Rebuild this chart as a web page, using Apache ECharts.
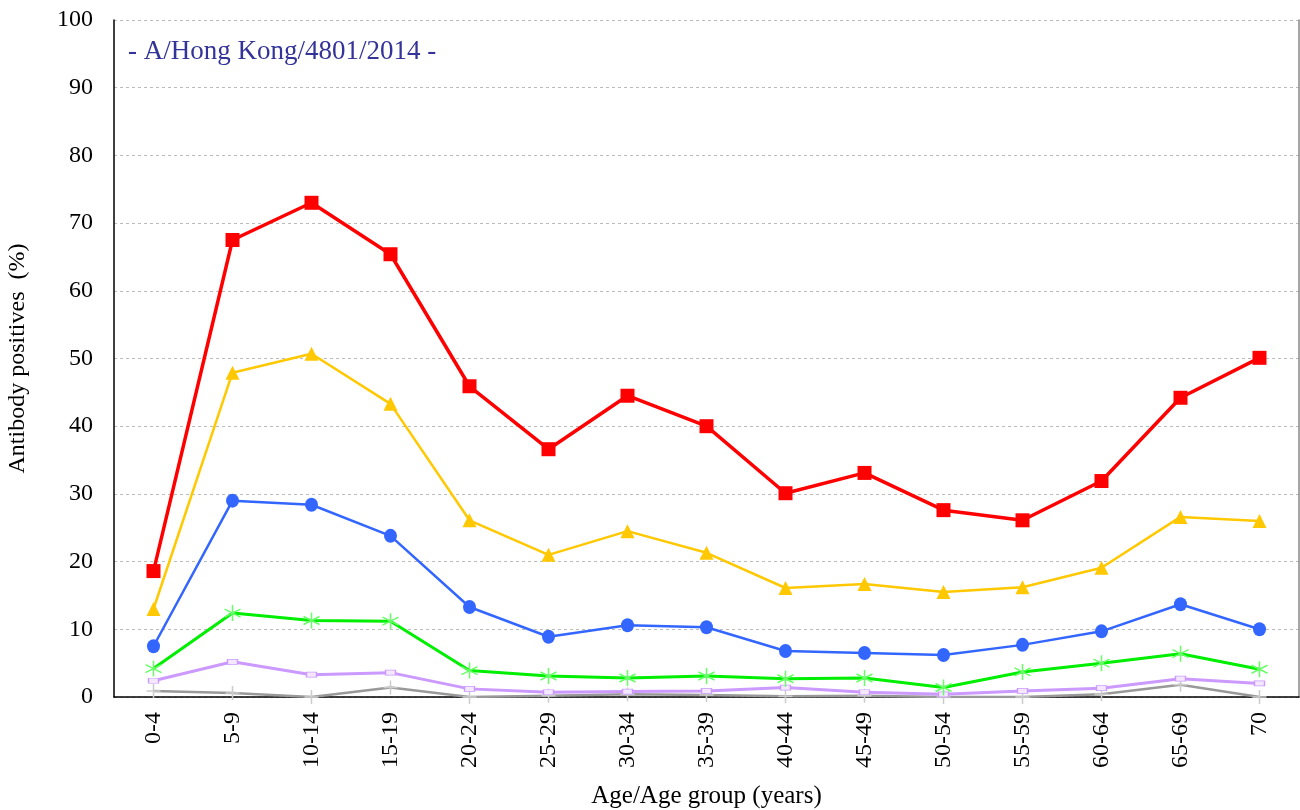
<!DOCTYPE html>
<html>
<head>
<meta charset="utf-8">
<script src="https://cdn.jsdelivr.net/npm/echarts@6/dist/echarts.min.js"></script>
<style>
  html, body { margin: 0; padding: 0; background: #fff; }
  #chart { width: 1300px; height: 810px; }
</style>
</head>
<body>
<div id="chart"></div>
<script>
var ageGroups = ["0-4", "5-9", "10-14", "15-19", "20-24", "25-29", "30-34", "35-39",
  "40-44", "45-49", "50-54", "55-59", "60-64", "65-69", "70"];

var redValues = [18.6, 67.5, 73.0, 65.4, 45.9, 36.6, 44.5, 40.0, 30.1, 33.1, 27.6, 26.1, 31.9, 44.2, 50.1];
var yellowValues = [13.0, 47.9, 50.7, 43.3, 26.1, 21.0, 24.5, 21.3, 16.1, 16.7, 15.5, 16.2, 19.1, 26.6, 26.0];
var blueValues = [7.5, 29.0, 28.4, 23.8, 13.3, 8.9, 10.6, 10.3, 6.8, 6.5, 6.2, 7.7, 9.7, 13.7, 10.0];
var greenValues = [4.2, 12.4, 11.3, 11.2, 3.9, 3.1, 2.8, 3.1, 2.7, 2.8, 1.4, 3.7, 5.0, 6.4, 4.1];
var purpleValues = [2.4, 5.2, 3.3, 3.6, 1.2, 0.7, 0.8, 0.9, 1.4, 0.7, 0.4, 0.9, 1.3, 2.7, 2.0];
var grayValues = [0.9, 0.6, 0, 1.4, 0, 0.2, 0.4, 0.3, 0.1, 0.2, 0, 0, 0.4, 1.8, 0];

var yTicks = { min: 0, max: 100, interval: 10 };

var font = "'Liberation Serif', 'DejaVu Serif', serif";

// asterisk and plus markers are drawn as stroked paths
var asterisk = "path://M10,0 L10,20 M1.3,5 L18.7,15 M1.3,15 L18.7,5";
var plus = "path://M10,0 L10,20 M4,10 L16,10";

function lineSeries(name, data, color, width, opts) {
  return Object.assign({
    name: name,
    type: "line",
    data: data,
    lineStyle: { color: color, width: width },
    emphasis: { disabled: true },
    animation: false
  }, opts);
}

var chart = echarts.init(document.getElementById("chart"));
chart.setOption({
  animation: false,
  grid: { left: 114, right: 1, top: 20, bottom: 113, outerBoundsMode: "none" },
  graphic: [{
    type: "text",
    left: 128,
    top: 38,
    style: {
      text: "- A/Hong Kong/4801/2014 -",
      fill: "#333399",
      font: "27px " + font
    }
  }],
  xAxis: {
    type: "category",
    data: ageGroups,
    boundaryGap: true,
    name: "Age/Age group (years)",
    nameLocation: "middle",
    nameGap: 87,
    nameTextStyle: { color: "#000", fontSize: 25, fontFamily: font },
    axisLine: { lineStyle: { color: "#000", width: 1.5 } },
    axisTick: { show: false },
    axisLabel: { rotate: 90, margin: 15, color: "#000", fontSize: 24, fontFamily: font },
    splitLine: { show: false }
  },
  yAxis: [{
    type: "value",
    min: yTicks.min,
    max: yTicks.max,
    interval: yTicks.interval,
    name: "Antibody positives  (%)",
    nameLocation: "middle",
    nameGap: 84,
    nameTextStyle: { color: "#000", fontSize: 24, fontFamily: font },
    axisLine: { show: true, lineStyle: { color: "#000", width: 1.5 } },
    axisTick: { show: false },
    axisLabel: { margin: 21, color: "#000", fontSize: 24, fontFamily: font },
    splitLine: { show: true, lineStyle: { color: "#bbbbbb", width: 1, type: [3, 3] } }
  }, {
    // plain frame line on the right edge
    type: "value",
    position: "right",
    min: yTicks.min,
    max: yTicks.max,
    interval: yTicks.interval,
    axisLine: { show: true, lineStyle: { color: "#888888", width: 1.5 } },
    axisTick: { show: false },
    axisLabel: { show: false },
    splitLine: { show: false }
  }],
  series: [
    lineSeries("gray", grayValues, "#999999", 2.5, {
      symbol: plus, symbolSize: 14,
      itemStyle: { color: "transparent", borderColor: "#cccccc", borderWidth: 1.5 }
    }),
    lineSeries("purple", purpleValues, "#cc99ff", 3, {
      symbol: "rect", symbolSize: [10, 5],
      itemStyle: { color: "#f3e8ff", borderColor: "#cc99ff", borderWidth: 1 }
    }),
    lineSeries("green", greenValues, "#00ee00", 3, {
      symbol: asterisk, symbolSize: 16,
      itemStyle: { color: "transparent", borderColor: "#66ff66", borderWidth: 1.5 }
    }),
    lineSeries("blue", blueValues, "#3366ff", 2.5, {
      symbol: "circle", symbolSize: [13, 14],
      itemStyle: { color: "#3366ff" }
    }),
    lineSeries("yellow", yellowValues, "#ffc800", 2.5, {
      symbol: "triangle", symbolSize: 14,
      itemStyle: { color: "#ffc800" }
    }),
    lineSeries("red", redValues, "#ff0000", 3.5, {
      symbol: "rect", symbolSize: 14,
      itemStyle: { color: "#ff0000" }
    })
  ]
});
</script>
</body>
</html>
